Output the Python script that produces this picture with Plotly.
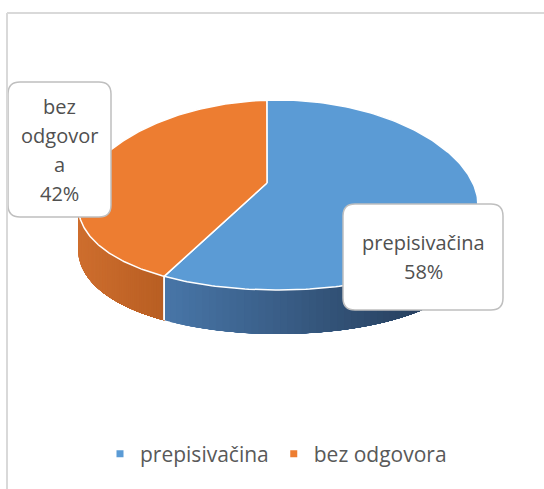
import numpy as np
import plotly.graph_objects as go

# ---- data ----
categories = ["prepisivačina", "bez odgovora"]
values = [58, 42]
label_lines = [["prepisivačina"], ["bez", "odgovor", "a"]]
top_colors = ["#5B9BD5", "#ED7D31"]
side_colors = [((72, 118, 168), (32, 52, 78)), ((206, 110, 46), (184, 94, 34))]

W, H = 544, 489
CX, CY = 278, 195
RX, RY, LOW = 200, 95, 10
CENTER = (267, 183)
DEPTH = 44
WARP_A, WARP_B = -18.9, -3.2   # simple perspective distortion of angles
FONT = "Open Sans"


def phi(theta):
    t = np.asarray(theta, dtype=float)
    return t + WARP_A * np.sin(np.radians(t)) + WARP_B


def ell(p_deg, dy=0.0):
    t = np.radians(np.asarray(p_deg, dtype=float))
    x = CX + RX * np.sin(t)
    y = CY - RY * np.cos(t) + LOW * np.sin(t) ** 2 + dy
    return x, y


total = sum(values)
fracs = [v / total for v in values]
starts = np.concatenate([[0], np.cumsum(fracs)[:-1]]) * 360
ends = np.cumsum(fracs) * 360
pstarts, pends = phi(starts), phi(ends)

fig = go.Figure()

# ---- side faces (front half on screen: 90..270 deg), gradient by overlapping strips ----
for i in range(len(values)):
    a0, a1 = max(pstarts[i], 90), min(pends[i], 270)
    if a1 <= a0:
        continue
    xs_all, _ = ell(np.linspace(a0, a1, 200))
    xmin, xmax = xs_all.min(), xs_all.max()
    n = 60
    edges = np.linspace(a0, a1, n + 1)
    c_left, c_right = side_colors[i]
    decreasing = ell(a0)[0] > ell(a1)[0]
    for k in range(n):
        if decreasing:
            th = np.linspace(a0, edges[n - k], 80)
            xm = ell(edges[n - k - 1])[0] * 0.5 + ell(edges[n - k])[0] * 0.5
        else:
            th = np.linspace(edges[k], a1, 80)
            xm = ell(edges[k])[0] * 0.5 + ell(edges[k + 1])[0] * 0.5
        xt, yt = ell(th)
        xb, yb = ell(th[::-1], DEPTH)
        f = (xm - xmin) / (xmax - xmin) if xmax > xmin else 0
        col = tuple(int(round(c_left[j] + (c_right[j] - c_left[j]) * f)) for j in range(3))
        cs = "rgb(%d,%d,%d)" % col
        fig.add_trace(go.Scatter(
            x=np.concatenate([xt, xb, xt[:1]]), y=np.concatenate([yt, yb, yt[:1]]),
            mode="lines", fill="toself", fillcolor=cs, line=dict(width=0),
            hoverinfo="skip", showlegend=False))

# white split lines on the side
for i in range(len(values)):
    for a in (pstarts[i], pends[i]):
        if 90 < a % 360 < 270:
            x0, y0 = ell(a)
            x1, y1 = ell(a, DEPTH)
            fig.add_trace(go.Scatter(x=[x0, x1], y=[y0, y1], mode="lines",
                                     line=dict(color="white", width=1.5),
                                     hoverinfo="skip", showlegend=False))

# ---- top faces ----
for i in range(len(values)):
    th = np.linspace(pstarts[i], pends[i], 200)
    xa, ya = ell(th)
    xs = np.concatenate([[CENTER[0]], xa, [CENTER[0]]])
    ys = np.concatenate([[CENTER[1]], ya, [CENTER[1]]])
    fig.add_trace(go.Scatter(x=xs, y=ys, mode="lines", fill="toself",
                             fillcolor=top_colors[i], line=dict(color="white", width=1.5),
                             hoverinfo="skip", showlegend=False))

# ---- legend entries ----
for i, c in enumerate(categories):
    fig.add_trace(go.Scatter(x=[None], y=[None], mode="markers", name=c,
                             marker=dict(symbol="square", size=7, color=top_colors[i])))


# ---- data label boxes ----
def rrect(x0, y0, x1, y1, r):
    return (f"M{x0+r},{y0} L{x1-r},{y0} Q{x1},{y0} {x1},{y0+r} L{x1},{y1-r} "
            f"Q{x1},{y1} {x1-r},{y1} L{x0+r},{y1} Q{x0},{y1} {x0},{y1-r} "
            f"L{x0},{y0+r} Q{x0},{y0} {x0+r},{y0} Z")


boxes = [(343, 204, 503, 310), (8, 82, 111, 217)]
line_gap = 29
shapes = []
annotations = []
for i in range(len(values)):
    x0, y0, x1, y1 = boxes[i]
    shapes.append(dict(type="path", path=rrect(x0, y0, x1, y1, 12), xref="x", yref="y",
                       fillcolor="white", line=dict(color="#BFBFBF", width=1.5), layer="above"))
    lines = label_lines[i] + [f"{round(fracs[i]*100)}%"]
    cy = (y0 + y1) / 2
    for k, t in enumerate(lines):
        yy = cy + (k - (len(lines) - 1) / 2) * line_gap
        annotations.append(dict(x=(x0 + x1) / 2, y=yy, xref="x", yref="y", text=t,
                                showarrow=False, font=dict(family=FONT, size=20, color="#505050"),
                                xanchor="center", yanchor="middle"))

# chart border
shapes.append(dict(type="line", x0=7, x1=W, y0=13, y1=13, xref="x", yref="y",
                   line=dict(color="#D9D9D9", width=2)))
shapes.append(dict(type="line", x0=7, x1=7, y0=13, y1=H, xref="x", yref="y",
                   line=dict(color="#D9D9D9", width=2)))

fig.update_layout(
    width=W, height=H, margin=dict(l=0, r=0, t=0, b=0),
    paper_bgcolor="white", plot_bgcolor="white",
    xaxis=dict(range=[0, W], visible=False, fixedrange=True),
    yaxis=dict(range=[H, 0], visible=False, fixedrange=True),
    shapes=shapes, annotations=annotations,
    legend=dict(orientation="h", x=0.5 + 4 / W, xanchor="center", y=(H - 454) / H, yanchor="middle",
                font=dict(family=FONT, size=21, color="#595959"), bgcolor="rgba(0,0,0,0)"),
)

fig.write_html("out.html", config={"displayModeBar": False},
               post_script="document.body.style.margin='0';")
